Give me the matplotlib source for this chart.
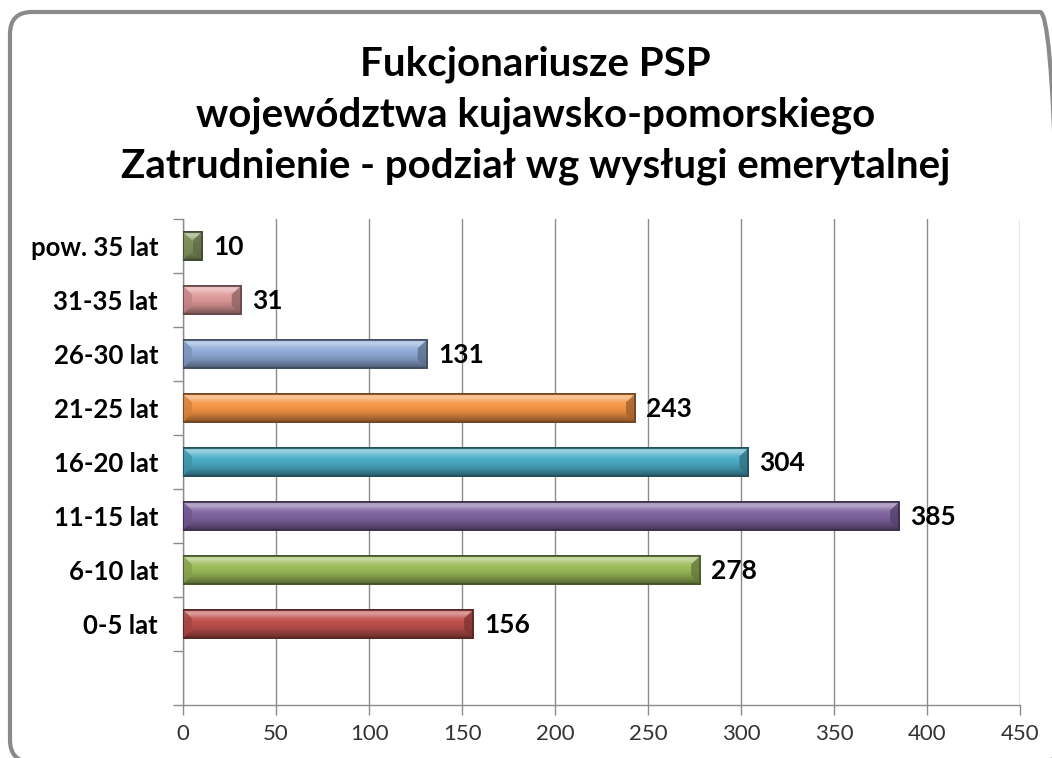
import numpy as np
import matplotlib
matplotlib.use("Agg")
import matplotlib.pyplot as plt
from matplotlib.colors import to_rgb
from matplotlib.patches import FancyBboxPatch, Polygon

# data (bottom to top)
categories = ["0-5 lat", "6-10 lat", "11-15 lat", "16-20 lat", "21-25 lat",
              "26-30 lat", "31-35 lat", "pow. 35 lat"]
values = [156, 278, 385, 304, 243, 131, 31, 10]
colors = ["#C0504D", "#9BBB59", "#8064A2", "#4BACC6", "#F79646",
          "#8EAAD6", "#DE9A99", "#8DA067"]
x_ticks = [0, 50, 100, 150, 200, 250, 300, 350, 400, 450]
title = ("Fukcjonariusze PSP\n"
         "województwa kujawsko-pomorskiego\n"
         "Zatrudnienie - podział wg wysługi emerytalnej")

plt.rcParams["font.family"] = ["Lato", "DejaVu Sans"]

fig = plt.figure(figsize=(10.52, 7.58), dpi=100)

# rounded frame around the whole chart (inches), cut by the image edge right/bottom
frame = FancyBboxPatch((0.10, -0.04), 10.52, 7.50, boxstyle="round,pad=0,rounding_size=0.22",
                       transform=fig.dpi_scale_trans, facecolor="none", edgecolor="#8a8a8a",
                       linewidth=3, zorder=-1)
fig.patches.append(frame)

fig.text(0.509, 0.940, title, ha="center", va="top", fontsize=29, fontweight="bold",
         linespacing=1.45, color="black")

ax = fig.add_axes([0.174, 0.070, 0.7956, 0.641])
ax.set_xlim(0, 450)
ax.set_ylim(-0.5, 8.5)


def shade(c, f):
    c = np.array(to_rgb(c))
    if f >= 0:
        return c + (1 - c) * f
    return c * (1 + f)


bar_h = 0.52
pos = np.arange(1, len(categories) + 1)
px = 450 / 837.0  # data units per pixel in x
for y, v, c in zip(pos, values, colors):
    # vertical bevel profile, top row first
    prof = [0.25, 0.45, 0.15, 0.0, -0.05, -0.15, -0.3, -0.45]
    t = np.linspace(0, 1, len(prof))
    tt = np.linspace(0, 1, 40)
    rows = np.interp(tt, t, prof)
    img = np.array([shade(c, f) for f in rows]).reshape(40, 1, 3)
    bars = ax.barh(y, v, height=bar_h, color=c, edgecolor=shade(c, -0.55), linewidth=1.2, zorder=3)
    rect = bars[0]
    im = ax.imshow(img, extent=(0, v, y - bar_h / 2, y + bar_h / 2), aspect="auto",
                   interpolation="bilinear", zorder=3)
    im.set_clip_path(rect)
    # bevelled ends
    b = min(9 * px, v / 2)
    y0, y1 = y - bar_h / 2, y + bar_h / 2
    ax.add_patch(Polygon([(0, y1), (b, y1 - bar_h * 0.3), (b, y0 + bar_h * 0.3), (0, y0)],
                         closed=True, facecolor=shade(c, -0.15), edgecolor="none", alpha=0.8, zorder=3.5))
    ax.add_patch(Polygon([(v, y1), (v - b, y1 - bar_h * 0.3), (v - b, y0 + bar_h * 0.3), (v, y0)],
                         closed=True, facecolor=shade(c, -0.35), edgecolor="none", alpha=0.8, zorder=3.5))
    ax.add_patch(plt.Rectangle((0, y0), v, bar_h, facecolor="none", edgecolor=shade(c, -0.55),
                               linewidth=1.2, zorder=4))
    ax.annotate(str(v), (v, y), xytext=(8, -1), textcoords="offset points", ha="left", va="center",
                fontsize=19, fontweight="bold", color="black")

ax.set_xlim(0, 450)
ax.set_ylim(-0.5, 8.5)
ax.set_xticks(x_ticks)
ax.set_xticklabels([str(t) for t in x_ticks], fontsize=16, color="#333333")
ax.set_yticks(pos)
ax.set_yticklabels(categories, fontsize=18.5, fontweight="bold")
ax.set_yticks(np.arange(-0.5, 9, 1), minor=True)
ax.tick_params(axis="y", which="major", length=0, pad=18)
ax.tick_params(axis="y", which="minor", length=7, color="#8c8c8c", width=1)
ax.tick_params(axis="x", length=7, color="#8c8c8c", width=1, pad=7)
ax.grid(axis="x", color="#8c8c8c", linewidth=1, zorder=0)
ax.set_axisbelow(True)
for s in ["top", "right"]:
    ax.spines[s].set_visible(False)
for s in ["left", "bottom"]:
    ax.spines[s].set_color("#8c8c8c")
    ax.spines[s].set_linewidth(1)

fig.savefig("out.png", dpi=100)
